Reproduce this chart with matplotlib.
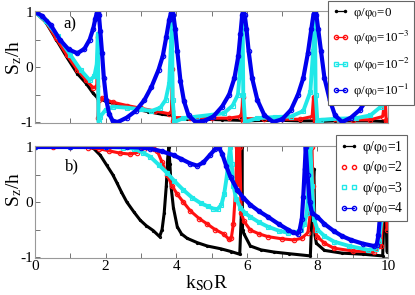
import matplotlib
matplotlib.use('Agg')
import matplotlib.pyplot as plt
from matplotlib.lines import Line2D

plt.rcParams['font.family'] = ['Liberation Serif', 'DejaVu Serif']
plt.rcParams['mathtext.fontset'] = 'stix'

# ---- panel a) : phi/phi0 = 0, 1e-3, 1e-2, 1e-1  (k_SO R, S_z/h)
a_black = [(0, 1), (0.3, 0.82), (0.6, 0.5), (0.9, 0.18), (1.2, -0.12), (1.45, -0.3),
           (1.65, -0.48), (1.77, -0.56), (1.8, -0.57), (2.0, -0.62), (2.4, -0.7), (2.8, -0.76),
           (3.2, -0.81), (3.6, -0.86), (3.86, -0.88), (3.89, -0.6), (3.92, -0.95), (4.3, -0.94),
           (4.8, -0.95), (5.3, -0.96), (5.85, -0.97), (5.88, -0.7), (5.92, -0.98), (6.5, -0.97),
           (7.0, -0.97), (7.5, -0.98), (7.9, -0.98), (7.93, -0.7), (7.96, -0.99), (8.5, -0.98),
           (9.0, -0.98), (9.5, -0.98), (9.9, -0.99)]
a_red = [(0, 1), (0.3, 0.83), (0.6, 0.52), (0.9, 0.22), (1.2, -0.05), (1.45, -0.24),
         (1.65, -0.38), (1.75, -0.35), (1.78, 0.55), (1.79, -0.93), (1.81, -0.6), (1.9, -0.57),
         (2.2, -0.64), (2.6, -0.7), (3.0, -0.75), (3.4, -0.8), (3.8, -0.85), (3.87, -0.8),
         (3.89, -0.03), (3.91, -0.98), (3.95, -0.92), (4.4, -0.92), (5.0, -0.93), (5.5, -0.93),
         (5.8, -0.9), (5.86, -0.85), (5.88, -0.55), (5.9, -0.98), (5.95, -0.94), (6.5, -0.94),
         (7.0, -0.95), (7.5, -0.95), (7.85, -0.9), (7.89, -0.55), (7.92, -0.99), (7.96, -0.96),
         (8.5, -0.95), (9.0, -0.96), (9.5, -0.96), (9.85, -0.9), (9.92, -0.55), (9.95, -0.99),
         (9.98, -0.97)]
a_cyan = [(0, 1), (0.3, 0.84), (0.65, 0.56), (1.0, 0.22), (1.3, -0.06), (1.55, -0.24),
          (1.68, -0.17), (1.75, 0.05), (1.78, 0.6), (1.8, -1.0), (1.85, -0.9), (2.0, -0.78),
          (2.2, -0.72), (2.6, -0.74), (3.0, -0.77), (3.3, -0.8), (3.55, -0.74), (3.7, -0.6),
          (3.8, -0.3), (3.86, 0.5), (3.88, 0.88), (3.9, -0.6), (3.95, -1.0), (4.2, -0.93),
          (4.6, -0.9), (5.0, -0.87), (5.35, -0.84), (5.6, -0.7), (5.75, -0.5), (5.84, 0.2),
          (5.88, 0.95), (5.9, -0.5), (5.95, -1.0), (6.3, -0.93), (6.8, -0.91), (7.25, -0.9),
          (7.6, -0.8), (7.8, -0.45), (7.88, 0.3), (7.93, 0.95), (7.95, -0.5), (8.0, -1.0),
          (8.1, -0.96), (8.6, -0.94), (9.1, -0.93), (9.5, -0.88), (9.8, -0.72), (9.9, -0.2),
          (9.95, 0.5)]
a_blue = [(0, 1), (0.2, 0.93), (0.45, 0.76), (0.7, 0.5), (0.95, 0.32), (1.2, 0.25),
          (1.4, 0.33), (1.55, 0.5), (1.65, 0.7), (1.71, 0.88), (1.75, 0.98), (1.78, 1.0),
          (1.81, 0.95), (1.85, 0.65), (1.9, 0.25), (1.95, -0.2), (2.02, -0.6), (2.1, -0.85),
          (2.2, -0.98), (2.35, -1.0), (2.6, -0.92), (2.85, -0.8), (3.1, -0.6), (3.3, -0.36),
          (3.5, -0.05), (3.62, 0.2), (3.72, 0.55), (3.8, 0.85), (3.85, 0.98), (3.88, 1.0),
          (3.92, 0.95), (3.97, 0.7), (4.03, 0.3), (4.12, -0.25), (4.22, -0.62), (4.35, -0.88),
          (4.55, -1.0), (4.8, -0.98), (5.05, -0.9), (5.3, -0.72), (5.5, -0.5), (5.65, -0.2),
          (5.76, 0.2), (5.82, 0.6), (5.87, 0.95), (5.9, 1.0), (5.94, 0.95), (5.99, 0.7),
          (6.05, 0.3), (6.15, -0.2), (6.3, -0.6), (6.5, -0.88), (6.75, -1.0), (7.0, -0.95),
          (7.25, -0.78), (7.45, -0.5), (7.6, -0.2), (7.73, 0.25), (7.83, 0.7), (7.89, 0.96),
          (7.93, 1.0), (7.97, 0.95), (8.02, 0.7), (8.1, 0.3), (8.2, -0.2), (8.35, -0.6),
          (8.5, -0.88), (8.7, -1.0), (8.95, -0.92), (9.2, -0.78), (9.45, -0.55), (9.6, -0.3),
          (9.75, 0.1), (9.85, 0.55), (9.93, 1.0), (10.0, 0.6)]

# ---- panel b) : phi/phi0 = 1, 2, 3, 4
b_black = [(0, 1), (0.5, 1), (1.0, 1), (1.4, 1), (1.65, 0.98), (1.85, 0.85), (2.03, 0.67),
           (2.2, 0.5), (2.32, 0.35), (2.45, 0.18), (2.6, 0.0), (2.8, -0.18), (2.98, -0.33),
           (3.15, -0.43), (3.35, -0.52), (3.53, -0.63), (3.6, -0.5), (3.66, -0.2), (3.72, 0.3),
           (3.76, 0.8), (3.79, 1.0), (3.82, 0.7), (3.86, 0.25), (3.92, -0.1), (4.03, -0.45),
           (4.15, -0.58), (4.31, -0.66), (4.6, -0.74), (4.88, -0.8), (5.26, -0.85), (5.55, -0.9),
           (5.8, -0.95), (5.84, -0.3), (5.86, 1.0), (5.88, -0.5), (5.92, -0.58), (6.1, -0.8),
           (6.4, -0.87), (6.77, -0.91), (7.2, -0.94), (7.8, -0.98), (7.87, 0.2), (7.9, 0.6),
           (7.93, -0.6), (7.97, -0.75), (8.2, -0.88), (8.7, -0.93), (9.3, -0.95), (9.85, -0.98),
           (9.92, 0.5), (9.97, -0.9)]
b_red = [(0, 1), (0.5, 1), (1.0, 1), (1.5, 0.99), (1.8, 0.97), (2.1, 0.93), (2.4, 0.89),
         (2.7, 0.87), (2.9, 0.9), (3.1, 0.97), (3.25, 1.0), (3.38, 0.97), (3.47, 0.92),
         (3.6, 0.72), (3.74, 0.5), (3.88, 0.3), (4.02, 0.15), (4.2, 0.0), (4.4, -0.16),
         (4.65, -0.3), (4.88, -0.4), (5.1, -0.5), (5.34, -0.58), (5.5, -0.68), (5.56, -0.66),
         (5.62, -0.4), (5.68, 0.2), (5.72, 1.0), (5.76, 0.3), (5.8, 1.0), (5.84, -0.2),
         (5.92, -0.35), (6.1, -0.51), (6.35, -0.58), (6.6, -0.63), (7.0, -0.67), (7.34, -0.69),
         (7.55, -0.66), (7.73, -0.56), (7.8, -0.2), (7.84, 1.0), (7.88, 0.3), (7.92, -0.5),
         (8.0, -0.63), (8.2, -0.75), (8.47, -0.84), (9.0, -0.89), (9.6, -0.91), (9.8, -0.8),
         (9.87, 0.0), (9.92, 0.8), (9.97, -0.5)]
b_cyan = [(0, 1), (1.0, 1), (2.0, 1), (2.5, 0.99), (2.8, 0.97), (3.05, 0.9), (3.27, 0.82),
          (3.5, 0.68), (3.74, 0.53), (3.95, 0.38), (4.2, 0.22), (4.45, 0.08), (4.69, -0.02),
          (4.9, -0.08), (5.05, -0.12), (5.17, -0.13), (5.28, -0.05), (5.36, 0.15), (5.43, 0.45),
          (5.49, 0.8), (5.53, 1.0), (5.57, 0.7), (5.62, 0.3), (5.7, 0.05), (5.82, -0.1),
          (5.95, -0.2), (6.1, -0.27), (6.35, -0.37), (6.6, -0.45), (6.9, -0.52), (7.16, -0.56),
          (7.4, -0.55), (7.53, -0.51), (7.63, -0.4), (7.7, -0.2), (7.75, 0.3), (7.8, 1.0),
          (7.85, 0.3), (7.9, -0.3), (8.0, -0.5), (8.2, -0.62), (8.47, -0.72), (8.9, -0.8),
          (9.43, -0.87), (9.65, -0.85), (9.75, -0.7), (9.82, -0.3), (9.87, 0.5)]
b_blue = [(0, 1), (1.0, 1), (2.0, 1), (2.6, 1.0), (3.0, 0.99), (3.27, 0.97), (3.6, 0.92),
          (3.93, 0.85), (4.15, 0.78), (4.4, 0.7), (4.6, 0.66), (4.77, 0.72), (4.95, 0.85),
          (5.1, 0.96), (5.2, 1.0), (5.3, 0.88), (5.42, 0.65), (5.54, 0.45), (5.73, 0.22),
          (5.9, 0.08), (6.1, -0.05), (6.35, -0.17), (6.6, -0.27), (6.9, -0.4), (7.16, -0.5),
          (7.3, -0.55), (7.44, -0.58), (7.5, -0.5), (7.56, -0.3), (7.6, 0.1), (7.64, 0.6),
          (7.67, 1.0), (7.72, 0.5), (7.78, 0.0), (7.85, -0.2), (8.0, -0.27), (8.2, -0.4),
          (8.47, -0.53), (8.7, -0.62), (8.95, -0.69), (9.3, -0.76), (9.6, -0.8), (9.68, -0.78),
          (9.73, -0.6), (9.78, -0.2), (9.82, 0.4)]

labels_a = ['φ/φ$_0$=0', 'φ/φ$_0$=10$^{-3}$', 'φ/φ$_0$=10$^{-2}$', 'φ/φ$_0$=10$^{-1}$']
labels_b = ['φ/φ$_0$=1', 'φ/φ$_0$=2', 'φ/φ$_0$=3', 'φ/φ$_0$=4']

colors = ['black', '#ff1010', '#20e8e8', '#0000ee']
markers = ['.', 'o', 's', 'o']
widths = [2.2, 2.2, 2.8, 3.0]

W, H = 415, 295
fig = plt.figure(figsize=(W / 100, H / 100), dpi=100)
ax_a = fig.add_axes([35 / W, 1 - 123.1 / H, 353 / W, 112.2 / H])
ax_b = fig.add_axes([35 / W, 1 - 258.1 / H, 353 / W, 112.2 / H])


def draw(ax, series):
    for pts, c, m, lw in zip(series, colors, markers, widths):
        x, y = zip(*pts)
        ax.plot(x, y, color=c, lw=lw, marker=m, ms=3.2 if m != '.' else 3,
                mfc='none', mew=0.8, solid_capstyle='round', solid_joinstyle='round')


draw(ax_a, [a_black, a_red, a_cyan, a_blue])
draw(ax_b, [b_black, b_red, b_cyan, b_blue])

for ax in (ax_a, ax_b):
    ax.set_xlim(0, 10)
    ax.set_ylim(-1.02, 1.02)
    ax.set_xticks([0, 2, 4, 6, 8, 10])
    ax.set_xticks([1, 3, 5, 7, 9], minor=True)
    ax.set_yticks([-1, 0, 1])
    ax.set_yticklabels(['-1', '0', '1'])
    ax.set_yticks([-0.5, 0.5], minor=True)
    ax.tick_params(which='both', direction='in', top=True, right=True, length=3.5,
                   width=0.7, color='0.45', labelsize=11, pad=1.5)
    for s in ax.spines.values():
        s.set_color('0.6')
        s.set_linewidth(0.8)

ax_a.tick_params(labelbottom=False)

ax_a.text(0.99, 0.78, 'a)', fontsize=12, ha='center', va='center')
ax_b.text(1.05, 0.65, 'b)', fontsize=12, ha='center', va='center')

fig.text(14 / W, 1 - 58 / H, r'S$_\mathrm{z}$/h', rotation=90, fontsize=14,
         ha='center', va='center')
fig.text(14 / W, 1 - 190 / H, r'S$_\mathrm{z}$/h', rotation=90, fontsize=14,
         ha='center', va='center')
fig.text(207 / W, 1 - 283 / H, r'k$_\mathrm{SO}$R', fontsize=14, ha='center', va='center')

handles_a = [Line2D([], [], color=c, marker=m, ms=3, mfc='none', lw=0.9)
             for c, m in zip(colors, markers)]
leg_a = fig.legend(handles_a, labels_a, loc='upper left', bbox_to_anchor=(328 / W, 1 - 1 / H),
                   fontsize=9.3, frameon=True, fancybox=False, framealpha=1, edgecolor='0.4',
                   handlelength=1.3, handletextpad=0.3, labelspacing=0.65, borderpad=0.35,
                   numpoints=2, borderaxespad=0)
leg_a.get_frame().set_linewidth(0.8)

handles_b = [Line2D([], [], color=c, marker=m, ms=3, mfc='none',
                    lw=0.9 if i in (0, 3) else 0)
             for i, (c, m) in enumerate(zip(colors, markers))]
leg_b = fig.legend(handles_b, labels_b, loc='upper left', bbox_to_anchor=(336 / W, 1 - 135 / H),
                   fontsize=9.8, frameon=True, fancybox=False, framealpha=1, edgecolor='0.4',
                   handlelength=1.3, handletextpad=0.3, labelspacing=0.25, borderpad=0.3,
                   numpoints=2, borderaxespad=0)
leg_b.get_frame().set_linewidth(0.8)

fig.savefig('out.png', dpi=100)
